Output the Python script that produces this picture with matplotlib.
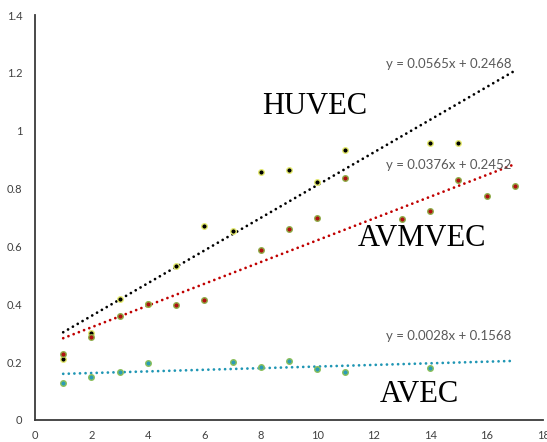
import matplotlib
matplotlib.use("Agg")
import matplotlib.pyplot as plt
import numpy as np

# Data
huvec_x = [1, 2, 3, 4, 5, 6, 7, 8, 9, 10, 11, 14, 15]
huvec_y = [0.21, 0.30, 0.417, 0.40, 0.531, 0.67, 0.653, 0.857, 0.864, 0.823, 0.933, 0.958, 0.956]

avmvec_x = [1, 2, 3, 4, 5, 6, 8, 9, 10, 11, 13, 14, 15, 16, 17]
avmvec_y = [0.227, 0.288, 0.36, 0.40, 0.398, 0.415, 0.587, 0.66, 0.70, 0.837, 0.696, 0.722, 0.83, 0.775, 0.81]

avec_x = [1, 2, 3, 4, 7, 8, 9, 10, 11, 14]
avec_y = [0.127, 0.15, 0.166, 0.198, 0.20, 0.183, 0.204, 0.176, 0.167, 0.179]

trend_slopes = [0.0565, 0.0376, 0.0028]
trend_intercepts = [0.2468, 0.2452, 0.1568]
trend_labels = ["y = 0.0565x + 0.2468", "y = 0.0376x + 0.2452", "y = 0.0028x + 0.1568"]
series_names = ["HUVEC", "AVMVEC", "AVEC"]

x_ticks = [0, 2, 4, 6, 8, 10, 12, 14, 16, 18]
y_ticks = [0, 0.2, 0.4, 0.6, 0.8, 1.0, 1.2, 1.4]
y_tick_labels = ["0", "0.2", "0.4", "0.6", "0.8", "1", "1.2", "1.4"]

fig = plt.figure(figsize=(5.47, 4.42), dpi=100)
ax = fig.add_axes([35 / 547, 1 - 420 / 442, (543 - 35) / 547, (420 - 15) / 442])
ax.set_xlim(0, 18)
ax.set_ylim(0, 1.4)

line_colors = ["#000000", "#c00000", "#1f96b4"]
face_colors = ["#000000", "#b01010", "#2b9cb5"]
edge_colors = ["#e6ec70", "#8fae4a", "#8cc05a"]

xs_all = [huvec_x, avmvec_x, avec_x]
ys_all = [huvec_y, avmvec_y, avec_y]

for i in range(3):
    xt = np.array([1, 17])
    yt = trend_slopes[i] * xt + trend_intercepts[i]
    ax.plot(xt, yt, color=line_colors[i], lw=2.0, linestyle=(0, (0.01, 2.0)),
            dash_capstyle="round", zorder=2)
    ax.scatter(xs_all[i], ys_all[i], s=16, facecolor=face_colors[i],
               edgecolor=edge_colors[i], linewidth=1.0, zorder=3)

eq_col = "#595959"
eq_font = "Lato"


def px2data(px, py):
    return (px - 35) / ((543 - 35) / 18), (420 - py) / ((420 - 15) / 1.4)


for lbl, (px, py) in zip(trend_labels, [(386, 64), (386, 165), (386, 336)]):
    dx, dy = px2data(px, py)
    ax.text(dx, dy, lbl, fontsize=9.5, color=eq_col, family=eq_font,
            ha="left", va="center", zorder=4)

for name, (px, py) in zip(series_names, [(262, 107), (358, 239), (380, 394)]):
    dx, dy = px2data(px, py)
    ax.text(dx, dy, name, fontsize=22, color="#000000", family="Liberation Serif",
            ha="left", va="center", zorder=4)

ax.set_xticks(x_ticks)
ax.set_xticklabels([str(t) for t in x_ticks])
ax.set_yticks(y_ticks)
ax.set_yticklabels(y_tick_labels)
ax.tick_params(axis="both", length=0, labelsize=8, labelcolor="#404040")
ax.tick_params(axis="x", pad=7)
ax.tick_params(axis="y", pad=9)
for lab in ax.get_xticklabels() + ax.get_yticklabels():
    lab.set_family("Lato")

for s in ["top", "right"]:
    ax.spines[s].set_visible(False)
for s in ["left", "bottom"]:
    ax.spines[s].set_color("#3a3a3a")
    ax.spines[s].set_linewidth(1.3)

fig.savefig("out.png", dpi=100)
